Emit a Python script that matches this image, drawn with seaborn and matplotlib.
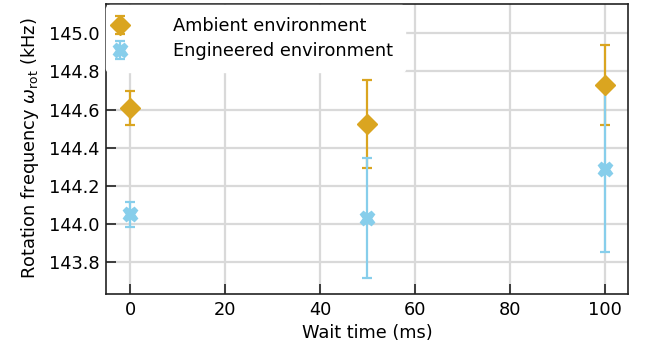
import matplotlib
matplotlib.use("Agg")
import matplotlib.pyplot as plt
import seaborn as sns

wait_ms = [0, 50, 100]
ambient = [144.61, 144.525, 144.73]
ambient_err = [0.09, 0.23, 0.21]
engineered = [144.05, 144.03, 144.29]
engineered_err = [0.065, 0.315, 0.44]

sns.set_theme(style="whitegrid")
plt.rcParams['font.family'] = ['DejaVu Sans']
FS = 12.8
plt.rcParams.update({
    'axes.edgecolor': 'black',
    'grid.color': '#d9d9d9',
    'grid.linewidth': 1.6,
    'xtick.direction': 'in',
    'ytick.direction': 'in',
    'xtick.bottom': True,
    'ytick.left': True,
    'text.color': 'black',
    'axes.labelcolor': 'black',
    'xtick.color': 'black',
    'ytick.color': 'black',
    'font.size': FS,
})

fig, ax = plt.subplots(figsize=(6.45, 3.56), dpi=100)

ax.errorbar(wait_ms, ambient, yerr=ambient_err, fmt='D', color='#DAA520',
            markersize=10.5, capsize=3.5, elinewidth=1.6, capthick=1.6,
            label='Ambient environment', zorder=3)
ax.errorbar(wait_ms, engineered, yerr=engineered_err, fmt='X', color='#87CEEB',
            markersize=10.5, capsize=3.5, elinewidth=1.6, capthick=1.6,
            label='Engineered environment', zorder=3)

yt = [143.8, 144.0, 144.2, 144.4, 144.6, 144.8, 145.0]
ax.set_xlim(-5, 105)
ax.set_ylim(143.632, 145.157)
ax.set_xticks([0, 20, 40, 60, 80, 100])
ax.set_yticks(yt)
ax.set_yticklabels([f"{v:.1f}" for v in yt])
ax.tick_params(axis='both', labelsize=FS, length=7, width=1.2, color='#222222', pad=5)
ax.set_xlabel('Wait time (ms)', fontsize=FS)
ax.set_ylabel(r'Rotation frequency $\omega_{\mathrm{rot}}$ (kHz)', fontsize=FS, labelpad=6)
for s in ax.spines.values():
    s.set_color('#222222')
    s.set_linewidth(1.2)
ax.legend(loc='upper left', bbox_to_anchor=(0.0, 0.994), frameon=True,
          facecolor='white', edgecolor='white', framealpha=1, fontsize=FS,
          borderaxespad=0.0, borderpad=0.65, handlelength=0.25,
          handletextpad=2.87, labelspacing=0.42)

fig.subplots_adjust(left=0.165, right=0.974, top=0.99, bottom=0.175)
fig.savefig('out.png', dpi=100)
